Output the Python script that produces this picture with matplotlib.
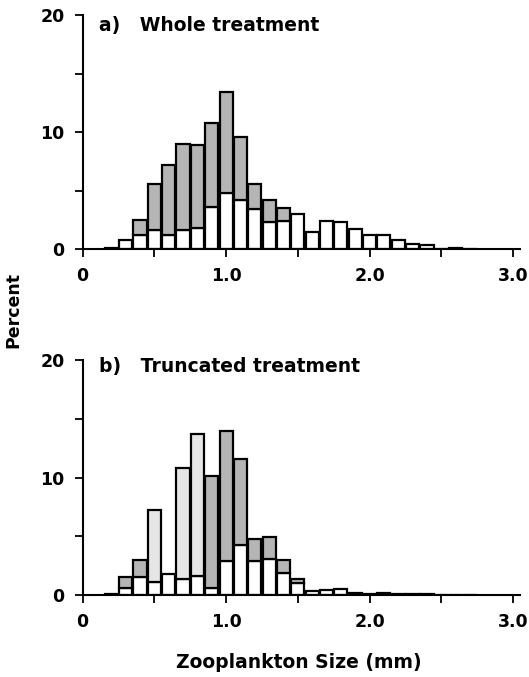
import numpy as np
import matplotlib.pyplot as plt

plt.rcParams['font.family'] = 'DejaVu Sans'
plt.rcParams['font.weight'] = 'bold'

# size classes (mm), bin centres
sizes = [0.2, 0.3, 0.4, 0.5, 0.6, 0.7, 0.8, 0.9, 1.0, 1.1, 1.2, 1.3, 1.4,
         1.5, 1.6, 1.7, 1.8, 1.9, 2.0, 2.1, 2.2, 2.3, 2.4, 2.5, 2.6, 2.7]

# a) whole treatment: total bar height and lower (white) part
whole_total = [0.1, 0.8, 2.5, 5.6, 7.2, 9.0, 8.9, 10.8, 13.4, 9.6, 5.6, 4.2, 3.5,
               3.0, 1.5, 2.4, 2.3, 1.7, 1.2, 1.2, 0.8, 0.4, 0.35, 0.05, 0.1, 0.05]
whole_lower = [0.1, 0.8, 1.2, 1.6, 1.2, 1.6, 1.8, 3.6, 4.8, 4.2, 3.4, 2.3, 2.4,
               3.0, 1.5, 2.4, 2.3, 1.7, 1.2, 1.2, 0.8, 0.4, 0.35, 0.05, 0.1, 0.05]

# b) truncated treatment
trunc_total = [0.1, 1.5, 3.0, 7.2, 1.8, 10.8, 13.7, 10.1, 14.0, 11.6, 4.8, 4.9, 3.0,
               1.4, 0.3, 0.4, 0.5, 0.15, 0.05, 0.14, 0.05, 0.05, 0.05, 0.0, 0.0, 0.0]
trunc_lower = [0.1, 0.6, 1.5, 1.1, 1.8, 1.4, 1.6, 0.6, 2.9, 4.3, 2.9, 3.1, 1.9,
               1.0, 0.3, 0.4, 0.5, 0.15, 0.05, 0.14, 0.05, 0.05, 0.05, 0.0, 0.0, 0.0]

dark = '#b5b5b5'
light = '#e6e6e6'
whole_cols = [dark] * len(sizes)
trunc_cols = [dark] * len(sizes)
for i in [3, 5, 6]:
    trunc_cols[i] = light

fig = plt.figure(figsize=(5.29, 6.77), dpi=100)
ax1 = fig.add_axes([0.1563, 0.632, 0.827, 0.3457])
ax2 = fig.add_axes([0.1563, 0.1211, 0.827, 0.347])

panels = [(ax1, whole_total, whole_lower, whole_cols, 'a)   Whole treatment', 0.957),
          (ax2, trunc_total, trunc_lower, trunc_cols, 'b)   Truncated treatment', 0.972)]

w = 0.092
for ax, tot, low, cols, title, ty in panels:
    x = np.array(sizes)
    tot = np.array(tot)
    low = np.array(low)
    ax.bar(x, low, width=w, color='white', edgecolor='black', linewidth=1.6)
    upper = tot - low
    m = upper > 0
    ax.bar(x[m], upper[m], bottom=low[m], width=w, color=np.array(cols)[m],
           edgecolor='black', linewidth=1.6)
    ax.set_xlim(0, 3.05)
    ax.set_ylim(0, 20)
    for s in ['top', 'right']:
        ax.spines[s].set_visible(False)
    for s in ['left', 'bottom']:
        ax.spines[s].set_linewidth(1.5)
    ax.set_xticks([0, 0.5, 1.0, 1.5, 2.0, 2.5, 3.0])
    ax.set_xticklabels(['0', '', '1.0', '', '2.0', '', '3.0'])
    ax.set_yticks([0, 5, 10, 15, 20])
    ax.set_yticklabels(['0', '', '10', '', '20'])
    ax.tick_params(axis='both', width=1.3, length=6, labelsize=12.5, pad=7)
    for lab in ax.get_xticklabels() + ax.get_yticklabels():
        lab.set_fontweight('bold')
    ax.text(0.038, ty, title, transform=ax.transAxes, fontsize=13.5,
            fontweight='bold', va='center', ha='left')

fig.text(0.025, 0.542, 'Percent', rotation=90, fontsize=12.5, fontweight='bold',
         va='center', ha='center')
fig.text(0.565, 0.022, 'Zooplankton Size (mm)', fontsize=13.5, fontweight='bold',
         va='center', ha='center')

plt.savefig('out.png', dpi=100)
